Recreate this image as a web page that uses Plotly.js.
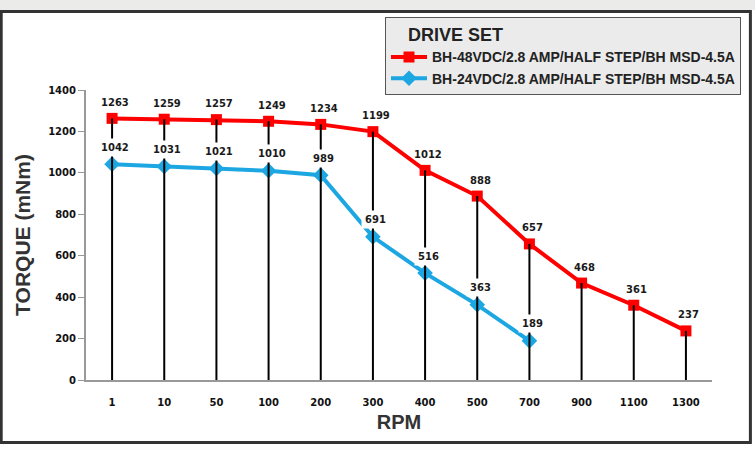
<!DOCTYPE html>
<html>
<head>
<meta charset="utf-8">
<script src="https://cdn.plot.ly/plotly-3.0.1.min.js"></script>
<style>html,body{margin:0;padding:0;background:#fff;}#chart{width:755px;height:451px;}</style>
</head>
<body>
<div id="chart"></div>
<script>
const rpm = ['1','10','50','100','200','300','400','500','700','900','1100','1300'];
const torque48 = [1263,1259,1257,1249,1234,1199,1012,888,657,468,361,237];
const torque24 = [1042,1031,1021,1010,989,691,516,363,189];
const name48 = 'BH-48VDC/2.8 AMP/HALF STEP/BH MSD-4.5A';
const name24 = 'BH-24VDC/2.8 AMP/HALF STEP/BH MSD-4.5A';
const yTicks = [0,200,400,600,800,1000,1200,1400];

const RED = '#ff0000';
const BLUE = '#1ca7e2';

// drop lines from each 48V point down to zero
const dropX = [], dropY = [];
rpm.forEach((c, i) => { dropX.push(c, c, null); dropY.push(0, torque48[i], null); });

const traces = [
  {x: rpm, y: torque48, name: name48, type: 'scatter', mode: 'lines+markers',
   line: {color: RED, width: 4}, marker: {symbol: 'square', size: 11, color: RED}, hoverinfo: 'skip'},
  {x: rpm.slice(0, torque24.length), y: torque24, name: name24, type: 'scatter', mode: 'lines+markers',
   line: {color: BLUE, width: 4}, marker: {symbol: 'diamond', size: 12, color: BLUE}, hoverinfo: 'skip'},
  {x: dropX, y: dropY, type: 'scatter', mode: 'lines', showlegend: false,
   line: {color: '#000', width: 2}, hoverinfo: 'skip', connectgaps: false}
];

const labelFont = {family: 'DejaVu Sans', size: 10, color: '#1a1a1a', weight: 'bold'};
const annotations = [];
// x given as category index (numeric-looking category names would be misread)
torque48.forEach((v, i) => annotations.push({x: i, y: v, xref: 'x', yref: 'y', text: String(v),
  showarrow: false, yshift: 16, xshift: 3, font: labelFont}));
torque24.forEach((v, i) => annotations.push({x: i, y: v, xref: 'x', yref: 'y', text: String(v),
  showarrow: false, yshift: 17, xshift: 3, font: labelFont, bgcolor: '#ffffff', borderpad: 3}));

// plot area in px: left 86, right 712, top 90, bottom 380
const L = 86, R = 712, T = 90, B = 380;
const px = x => (x - L) / (R - L);
const py = y => (B - y) / (B - T);

const layout = {
  width: 755, height: 451,
  margin: {l: L, r: 755 - R, t: T, b: 451 - B, pad: 0, autoexpand: false},
  paper_bgcolor: '#ffffff', plot_bgcolor: 'rgba(0,0,0,0)',
  showlegend: true,
  xaxis: {type: 'category', categoryorder: 'array', categoryarray: rpm, range: [-0.5, 11.5],
    showgrid: false, zeroline: false, showline: true, linecolor: '#999', linewidth: 2,
    ticks: '', ticklabelstandoff: 12, automargin: false,
    tickfont: {family: 'DejaVu Sans', size: 10, color: '#111', weight: 'bold'},
    title: {text: 'RPM', standoff: 8, font: {family: 'Liberation Sans', size: 20, color: '#333', weight: 'bold'}}},
  yaxis: {range: [0, 1400], tickvals: yTicks, showgrid: false, zeroline: false,
    showline: true, linecolor: '#999', linewidth: 2, ticks: 'outside', ticklen: 6, tickcolor: '#999', tickwidth: 1,
    automargin: false,
    tickfont: {family: 'DejaVu Sans', size: 10, color: '#111', weight: 'bold'},
    title: {text: 'TORQUE (mNm)', standoff: 12, font: {family: 'Liberation Sans', size: 21, color: '#333', weight: 'bold'}}},
  legend: {x: px(385), y: py(17), xanchor: 'left', yanchor: 'top', bgcolor: '#ebebeb',
    bordercolor: '#555', borderwidth: 1, itemwidth: 36,
    font: {family: 'Liberation Sans', size: 14, color: '#222', weight: 'bold'},
    title: {text: '\u00a0\u00a0\u00a0\u00a0DRIVE SET', side: 'top', font: {family: 'Liberation Sans', size: 18, color: '#222', weight: 'bold'}}},
  annotations: annotations,
  shapes: [
    {type: 'rect', xref: 'paper', yref: 'paper', layer: 'below', x0: px(0), x1: px(755), y0: py(0), y1: py(10),
     fillcolor: '#ebecea', line: {width: 0}},
    {type: 'rect', xref: 'paper', yref: 'paper', layer: 'below', x0: px(1.2), x1: px(750.4), y0: py(11.5), y1: py(442.5),
     fillcolor: '#ffffff', line: {color: '#333', width: 3}}
  ],
  hovermode: false
};

Plotly.newPlot('chart', traces, layout, {staticPlot: true, displayModeBar: false});
</script>
</body>
</html>
